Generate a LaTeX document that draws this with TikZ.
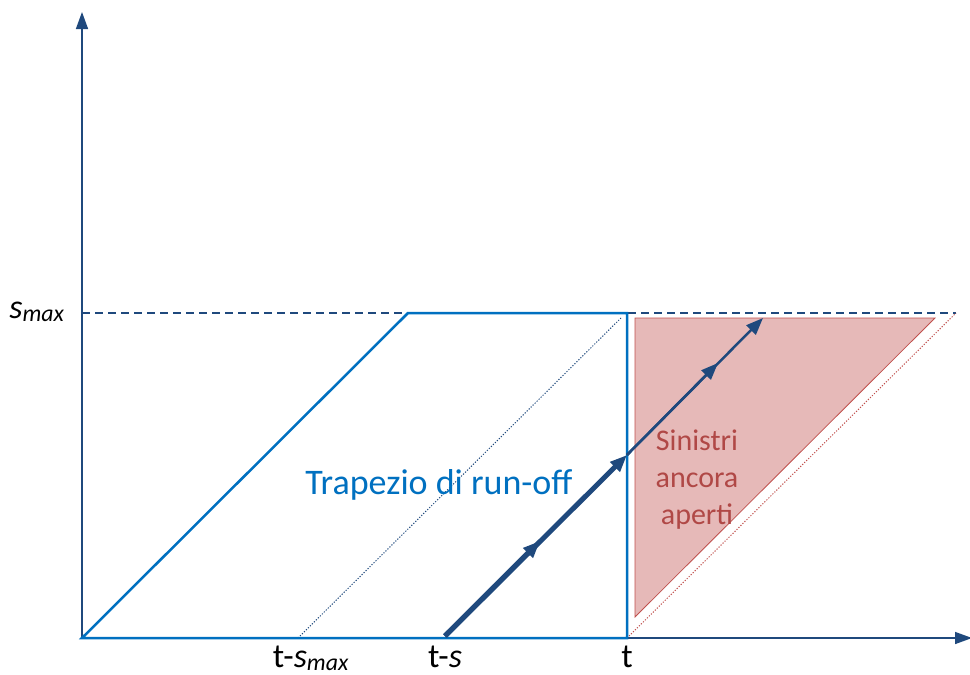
\documentclass[tikz,border=0pt]{standalone}
\usepackage{fontspec}
\setmainfont{Carlito}
\usetikzlibrary{arrows.meta}

\definecolor{axisblue}{RGB}{31,73,125}
\definecolor{trapblue}{RGB}{0,112,192}
\definecolor{redfill}{RGB}{230,185,184}
\definecolor{rededge}{RGB}{192,80,77}
\definecolor{redtext}{RGB}{176,72,70}

\begin{document}
\begin{tikzpicture}[x=1pt,y=-1pt,
    axis/.style={axisblue,line width=1.5pt,-{Triangle[length=17pt,width=12pt]}},
    trap/.style={trapblue,line width=2.5pt,line join=miter},
    lbl/.style={anchor=base,inner sep=0pt,font=\fontsize{34}{40}\selectfont},
    dots/.style={line width=1pt,dash pattern=on 1.2pt off 1.6pt},
    flow/.style={axisblue,-{Triangle[length=17pt,width=13pt]}}]
    \useasboundingbox (0,0) rectangle (970,675);

    % points
    \coordinate (O) at (82,638);
    \coordinate (ytip) at (82,12);
    \coordinate (xtip) at (972,638);
    \coordinate (smax) at (82,313);
    \coordinate (dashend) at (956,313);
    \coordinate (topL) at (408,313);
    \coordinate (topR) at (627,313);
    \coordinate (t) at (627,638);
    \coordinate (tsmax) at (298,638);
    \coordinate (tsmaxtop) at (621,318);
    \coordinate (ts) at (445,636);
    \coordinate (mid1) at (540,541);
    \coordinate (cross) at (627,455);
    \coordinate (mid2) at (718,363);
    \coordinate (arrend) at (763,318);

    % open claims triangle
    \fill[redfill,draw=rededge,line width=0.8pt] (635,617) -- (635,318) -- (935,318) -- cycle;
    \node[inner sep=0pt,align=center,text=redtext,font=\fontsize{30}{37}\selectfont] (open) at (697,480) {Sinistri\\ancora\\aperti};

    % axes
    \draw[axis] (O) -- (ytip);
    \draw[axis] (O) -- (xtip);
    \draw[axisblue,line width=1.2pt,dash pattern=on 8pt off 5pt] (smax) -- (dashend);

    % diagonals
    \draw[axisblue,dots] (tsmax) -- (tsmaxtop);
    \draw[rededge,dots] (t) -- (dashend);

    % run-off trapezoid
    \draw[trap] (O) -- (topL) -- (topR) -- (t) -- cycle;
    \node[anchor=base,inner sep=0pt,text=trapblue,font=\fontsize{36}{42}\selectfont] (trapezio) at (439,494) {Trapezio di run-off};

    % claim path
    \draw[flow,line width=5pt] (ts) -- (cross);
    \draw[flow,line width=5pt] (ts) -- (mid1);
    \draw[flow,line width=2.5pt] (cross) -- (arrend);
    \draw[flow,line width=2.5pt] (cross) -- (mid2);

    % labels
    \node[lbl] (lsmax) at (37,318) {\textit{s}\textsubscript{\textit{max}}};
    \node[lbl] (ltsmax) at (311,667) {t-\textit{s}\textsubscript{\textit{max}}};
    \node[lbl] (lts) at (445,667) {t-\textit{s}};
    \node[lbl] (lt) at (627,667) {t};
\end{tikzpicture}
\end{document}
